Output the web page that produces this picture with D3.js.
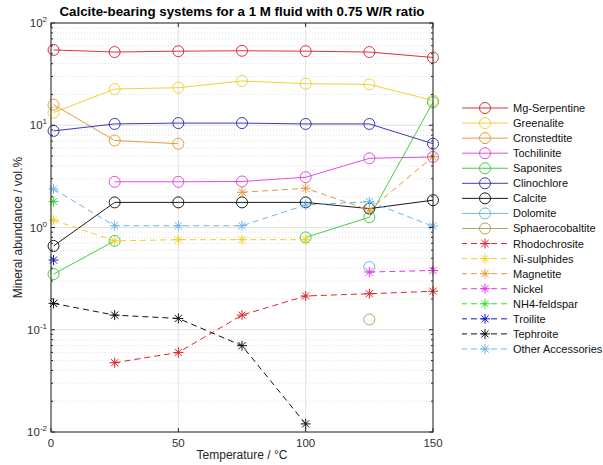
<!DOCTYPE html>
<html><head><meta charset="utf-8">
<script src="https://cdn.jsdelivr.net/npm/d3@7"></script>
<style>body{margin:0;background:#fff;} svg{display:block;font-family:"Liberation Sans",Arial,sans-serif;}</style>
</head><body><svg id="c" width="603" height="465"></svg>
<script>
const temperatures = [1, 25, 50, 75, 100, 125, 150];
const names = ["Mg-Serpentine","Greenalite","Cronstedtite","Tochilinite","Saponites","Clinochlore","Calcite","Dolomite","Sphaerocobaltite","Rhodochrosite","Ni-sulphides","Magnetite","Nickel","NH4-feldspar","Troilite","Tephroite","Other Accessories"];
const mgSerpentine   = [54.5, 52, 53, 53.5, 53, 52, 46];
const greenalite     = [13.3, 22.6, 23.3, 27.1, 25.5, 25.1, 17.5];
const cronstedtite   = [15.9, 7.1, 6.6, null, null, null, null];
const tochilinite    = [null, 2.8, 2.8, 2.82, 3.1, 4.75, 4.9];
const saponites      = [0.35, 0.74, null, null, 0.80, 1.26, 16.8];
const clinochlore    = [8.8, 10.3, 10.5, 10.5, 10.3, 10.3, 6.6];
const calcite        = [0.66, 1.76, 1.76, 1.76, 1.76, 1.53, 1.85];
const dolomite       = [null, null, null, null, null, 0.41, null];
const sphaerocobaltite = [null, null, null, null, null, 0.126, null];
const rhodochrosite  = [null, 0.0476, 0.060, 0.139, 0.214, 0.225, 0.238];
const niSulphides    = [1.18, 0.74, 0.76, 0.76, 0.76, null, null];
const magnetite      = [null, null, null, 2.21, 2.42, 1.48, 4.93];
const nickel         = [null, null, null, null, null, 0.367, 0.38];
const nh4Feldspar    = [1.79, null, null, null, null, null, null];
const troilite       = [0.48, null, null, null, null, null, null];
const tephroite      = [0.181, 0.139, 0.129, 0.0698, 0.012, null, null];
const otherAccessories = [2.38, 1.04, 1.04, 1.04, 1.66, 1.79, 1.03];
const xTicks = [0, 50, 100, 150];
const yTickExps = [-2, -1, 0, 1, 2];

const seriesValues = [mgSerpentine, greenalite, cronstedtite, tochilinite, saponites, clinochlore, calcite, dolomite, sphaerocobaltite, rhodochrosite, niSulphides, magnetite, nickel, nh4Feldspar, troilite, tephroite, otherAccessories];
const colors = ["#d8343e","#f2d038","#e89a3c","#df4fdf","#42d042","#3a3ab8","#1a1a1a","#70b6e6","#a9a862","#e0222c","#f0d024","#e8983a","#e036e6","#34dc34","#1818d4","#111111","#6cb4ea"];
const markerType = ["o","o","o","o","o","o","o","o","o","*","*","*","*","*","*","*","*"];

const svg = d3.select("#c");
const L = 51, R = 433, T = 23, B = 432;
const x = d3.scaleLinear().domain([0,150]).range([L,R]);
const y = d3.scaleLog().domain([0.01,100]).range([B,T]);

// grid
const g = svg.append("g");
const minorVals = [];
for (let e=-2;e<2;e++) for (let m=2;m<=9;m++) minorVals.push(m*Math.pow(10,e));
g.selectAll(".mn").data(minorVals).enter().append("line")
  .attr("x1",L).attr("x2",R).attr("y1",d=>y(d)).attr("y2",d=>y(d))
  .attr("stroke","#d9d9d9").attr("stroke-width",0.8).attr("stroke-dasharray","1,2");
g.selectAll(".mj").data(yTickExps).enter().append("line")
  .attr("x1",L).attr("x2",R).attr("y1",d=>y(Math.pow(10,d))).attr("y2",d=>y(Math.pow(10,d)))
  .attr("stroke","#e2e2e2").attr("stroke-width",1);
g.selectAll(".mx").data(xTicks).enter().append("line")
  .attr("y1",T).attr("y2",B).attr("x1",d=>x(d)).attr("x2",d=>x(d))
  .attr("stroke","#e2e2e2").attr("stroke-width",1);

// series
const plot = svg.append("g");
seriesValues.forEach((vals,i)=>{
  const pts = temperatures.map((t,j)=>({t, v: vals[j]}));
  const line = d3.line().defined(d=>d.v!=null).x(d=>x(d.t)).y(d=>y(d.v));
  plot.append("path").attr("d", line(pts)).attr("fill","none")
    .attr("stroke",colors[i]).attr("stroke-width",1)
    .attr("stroke-dasharray", markerType[i]==="*" ? "6,4" : null);
  pts.filter(d=>d.v!=null).forEach(d=>drawMarker(plot, markerType[i], x(d.t), y(d.v), colors[i]));
});

function drawMarker(sel, type, cx, cy, col){
  if (type==="o"){
    sel.append("circle").attr("cx",cx).attr("cy",cy).attr("r",5.5)
      .attr("fill","none").attr("stroke",col).attr("stroke-width",1);
  } else {
    const s = 5, d = s*0.72;
    const p = `M${cx-s},${cy}L${cx+s},${cy}M${cx},${cy-s}L${cx},${cy+s}M${cx-d},${cy-d}L${cx+d},${cy+d}M${cx-d},${cy+d}L${cx+d},${cy-d}`;
    sel.append("path").attr("d",p).attr("stroke",col).attr("stroke-width",1).attr("fill","none");
  }
}

// axes box
const ax = svg.append("g");
ax.append("rect").attr("x",L).attr("y",T).attr("width",R-L).attr("height",B-T)
  .attr("fill","none").attr("stroke","#262626").attr("stroke-width",1);
xTicks.forEach(t=>{
  ax.append("line").attr("x1",x(t)).attr("x2",x(t)).attr("y1",B).attr("y2",B-4).attr("stroke","#262626");
  ax.append("line").attr("x1",x(t)).attr("x2",x(t)).attr("y1",T).attr("y2",T+4).attr("stroke","#262626");
  ax.append("text").attr("x",x(t)).attr("y",B+15).attr("text-anchor","middle")
    .attr("font-size",11.5).attr("fill","#303030").text(t);
});
yTickExps.forEach(e=>{
  const yy = y(Math.pow(10,e));
  ax.append("line").attr("x1",L).attr("x2",L+4).attr("y1",yy).attr("y2",yy).attr("stroke","#262626");
  ax.append("line").attr("x1",R).attr("x2",R-4).attr("y1",yy).attr("y2",yy).attr("stroke","#262626");
  const tx = ax.append("text").attr("x",L-4).attr("y",yy+4).attr("text-anchor","end")
    .attr("font-size",11.5).attr("fill","#303030");
  tx.append("tspan").text("10");
  tx.append("tspan").attr("dy",-5).attr("font-size",8).text(String(e));
});
minorVals.forEach(v=>{
  const yy = y(v);
  ax.append("line").attr("x1",L).attr("x2",L+2).attr("y1",yy).attr("y2",yy).attr("stroke","#262626");
  ax.append("line").attr("x1",R).attr("x2",R-2).attr("y1",yy).attr("y2",yy).attr("stroke","#262626");
});

// labels
svg.append("text").attr("x",(L+R)/2).attr("y",16).attr("text-anchor","middle")
  .attr("font-size",13.3).attr("font-weight","bold").attr("fill","#000")
  .text("Calcite-bearing systems for a 1 M fluid with 0.75 W/R ratio");
svg.append("text").attr("x",(L+R)/2).attr("y",459).attr("text-anchor","middle")
  .attr("font-size",12).attr("fill","#262626").text("Temperature / °C");
svg.append("text").attr("transform",`translate(22,${(T+B)/2}) rotate(-90)`).attr("text-anchor","middle")
  .attr("font-size",12).attr("fill","#262626").text("Mineral abundance / vol.%");

// legend
const lg = svg.append("g");
names.forEach((n,i)=>{
  const yy = 108 + i*15.06;
  lg.append("line").attr("x1",462).attr("x2",508).attr("y1",yy).attr("y2",yy)
    .attr("stroke",colors[i]).attr("stroke-width",1)
    .attr("stroke-dasharray", markerType[i]==="*" ? "6,4" : null)
    .attr("stroke-dashoffset", markerType[i]==="*" ? 1 : null);
  drawMarker(lg, markerType[i], 485, yy, colors[i]);
  lg.append("text").attr("x",513).attr("y",yy+4).attr("font-size",11).attr("fill","#111").text(n);
});
</script></body></html>
